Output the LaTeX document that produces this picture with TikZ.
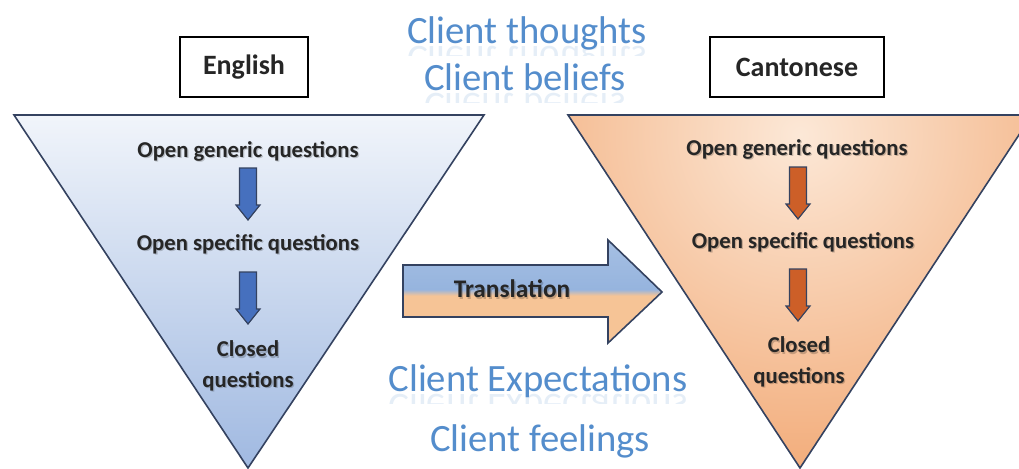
\documentclass[tikz,border=0pt]{standalone}
\usepackage{fontspec}
\setmainfont{Carlito}
\usetikzlibrary{calc}
\definecolor{clientblue}{RGB}{84,141,204}
\definecolor{edgeblue}{RGB}{52,66,96}
\definecolor{funnelblue}{RGB}{160,185,225}
\definecolor{funnelorange}{RGB}{240,158,100}
\definecolor{paleorange}{RGB}{252,232,215}
\definecolor{arrowblue}{RGB}{70,112,190}
\definecolor{arroworange}{RGB}{205,95,40}
\definecolor{bandblue}{RGB}{150,180,222}
\definecolor{bandorange}{RGB}{246,196,150}
\tikzset{
  funnel/.style={draw=edgeblue, line width=1.2pt},
  qfont/.style={font=\fontsize{17}{23}\selectfont\bfseries},
  qtext/.style={qfont, text=black!85, align=center, inner sep=0pt},
  qshadow/.style={qfont, text=black, opacity=0.2, align=center, inner sep=0pt},
  langbox/.style={draw=black, line width=1.3pt, minimum width=96pt, minimum height=45pt, font=\fontsize{21}{23}\selectfont\bfseries, text=black!85, inner sep=0pt},
  client/.style={font=\fontsize{29}{31}\selectfont, text=clientblue, inner sep=0pt, anchor=base},
  echo/.style={client, yscale=-1, transform shape, opacity=0.15},
  pics/downarrow/.style={code={
    \path[draw=edgeblue, line width=0.9pt, fill=#1]
      (-8.5,0) -- (8.5,0) -- (8.5,37) -- (12,37) -- (0,52) -- (-12,37) -- (-8.5,37) -- cycle;
  }},
}
\pgfdeclareverticalshading{transband}{100bp}{
  color(0bp)=(white!70!bandorange); color(25bp)=(bandorange); color(48bp)=(bandorange);
  color(51bp)=(bandblue); color(75bp)=(bandblue!85!white); color(100bp)=(white!55!bandblue)}
% a label drawn twice: a faint offset copy as its shadow, then the text
\newcommand\shadowlabel[3][]{%
  \node[qshadow,#1] at ($(#2)+(1.3,1.3)$) {#3};
  \node[qtext,#1] at (#2) {#3};}
\begin{document}
\begin{tikzpicture}[x=0.75pt, y=-0.75pt]
\useasboundingbox (0,0) rectangle (1019,468);
\fill[white] (0,0) rectangle (1019,468);

% left funnel (English)
\path[funnel, top color=white!85!funnelblue, bottom color=funnelblue] (14,115) -- (484,115) -- (248,468) -- cycle;
% right funnel (Cantonese): radial glow from the top centre
\begin{scope}
  \clip (568,115) -- (1032,115) -- (800,468) -- cycle;
  \fill[inner color=paleorange, outer color=funnelorange] (800,135) circle (420);
\end{scope}
\draw[funnel] (568,115) -- (1032,115) -- (800,468) -- cycle;

% language labels
\node[langbox] (en) at (244,67) {English};
\node[langbox, minimum width=131pt] (ca) at (797,67) {Cantonese};

% client descriptors, with a short faded reflection under the upper three
\foreach \t/\x/\y in {Client thoughts/527/43, Client beliefs/525/90, Client Expectations/538/391}{
  \node[client] at (\x,\y) {\t};
  \begin{scope}
    \clip (\x-200,\y+1) rectangle (\x+200,\y+12);
    \node[echo] at (\x,\y+3) {\t};
  \end{scope}
}
\node[client] (cf) at (540,451) {Client feelings};

% English question stages
\shadowlabel{248,151}{Open generic questions}
\shadowlabel{248,244}{Open specific questions}
\shadowlabel{248,366}{Closed\\questions}
% Cantonese question stages
\shadowlabel{797,149}{Open generic questions}
\shadowlabel{803,242}{Open specific questions}
\shadowlabel{799,362}{Closed\\questions}

% stage arrows
\pic at (248,168) {downarrow=arrowblue};
\pic at (248,272) {downarrow=arrowblue};
\pic at (798,167) {downarrow=arroworange};
\pic at (798,269) {downarrow=arroworange};

% translation arrow
\path[draw=edgeblue, line width=1.2pt, shading=transband]
  (403,265) -- (608,265) -- (608,240) -- (662,292) -- (608,343) -- (608,317) -- (403,317) -- cycle;
\shadowlabel[font=\fontsize{19}{21}\selectfont\bfseries]{512,289}{Translation}
\end{tikzpicture}
\end{document}
